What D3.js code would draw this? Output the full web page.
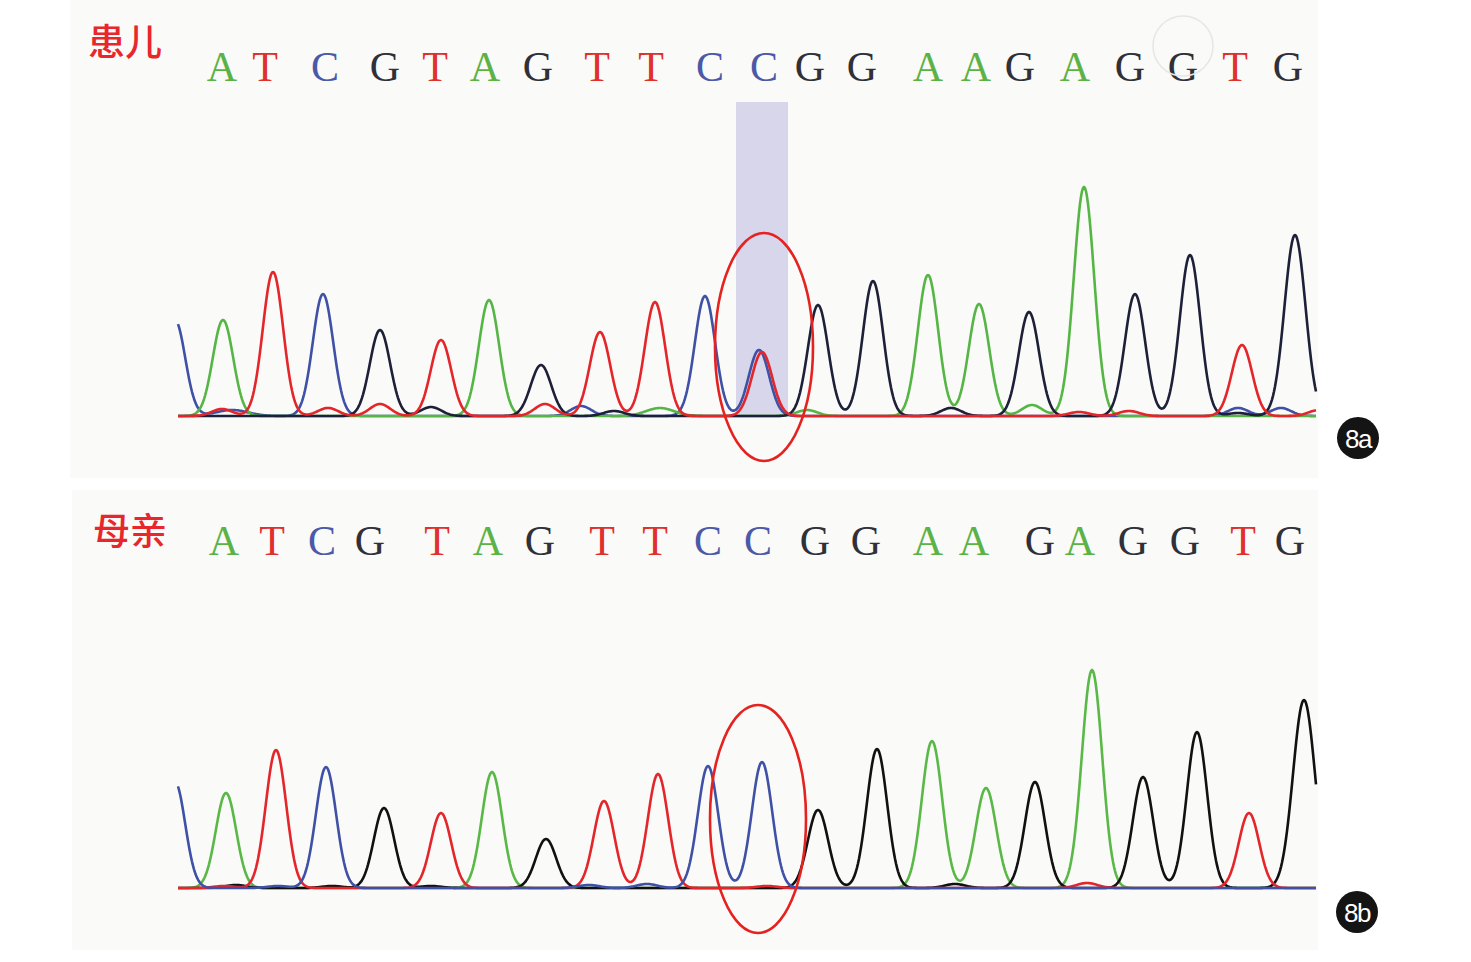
<!DOCTYPE html>
<html><head><meta charset="utf-8">
<script src="https://cdn.jsdelivr.net/npm/d3@7/dist/d3.min.js"></script>
<style>html,body{margin:0;padding:0;background:#fff;}svg{display:block;}</style>
</head><body>
<script>
// ---------- DATA ----------
// base calls and their scan positions
const basesA = ["A","T","C","G","T","A","G","T","T","C","C","G","G","A","A","G","A","G","G","T","G"];
const basePosA = [44,87,147,207,257,307,360,419,473,532,586,632,684,750,798,842,897,952,1005,1057,1110];
const basesB = ["A","T","C","G","T","A","G","T","T","C","C","G","G","A","A","G","A","G","G","T","G"];
const basePosB = [46,94,144,192,259,310,362,424,477,530,580,637,688,750,796,862,902,955,1007,1065,1112];

// peaks per dye channel: [scan position, signal height, (optional width)]
const peaksA_A = [[45,96],[311,116],[750,141],[801,112],[906,229],[482,8,14],[629,6],[854,11]];
const peaksA_C = [[-3,96],[145,122],[527,120],[581,66],[54,6,16],[403,10],[1060,8],[1103,8]];
const peaksA_G = [[202,86],[363,51],[640,111],[695,135],[851,104],[957,122],[1012,161],[1117,181,10.5],[253,9],[436,5],[773,8],[1060,3]];
const peaksA_T = [[95,144],[263,76],[422,84],[477,114],[584,64],[1064,71],[44,7],[150,8],[202,12],[367,12],[901,4],[951,5],[1141,6]];

const peaksB_A = [[48,95],[314,116],[754,147],[808,100],[914,218]];
const peaksB_C = [[-3,106],[148,121],[530,122],[584,126],[100,2],[411,3],[469,4]];
const peaksB_G = [[206,80],[368,49],[640,78],[699,139],[857,106],[965,111],[1019,156],[1126,188,11],[58,3],[154,2],[253,2],[777,4]];
const peaksB_T = [[98,138],[263,75],[426,87],[480,114],[1071,75],[46,2],[589,2],[909,5]];

const scanDomain = [0, 1138];
const signalDomain = [0, 240];
const labelA = "患儿", labelB = "母亲";
const badgeA = "8a", badgeB = "8b";
const highlightA = [558, 610]; // scan range of highlighted base
const ellipseA = {cx: 586, cy: 69, rx: 49, ry: 114};
const ellipseB = {cx: 580, cy: 69, rx: 48, ry: 114};

// ---------- STYLE ----------
const W = 1471, H = 962;
const dyeColor = {A:"#55b645", C:"#3f51a6", G:"#1d2038", T:"#e4262b"};
const dyeColorB = {A:"#5ab847", C:"#3f51a6", G:"#111111", T:"#e4262b"};
const letterColor = {A:"#5cb244", C:"#4b59a8", G:"#2f3038", T:"#e0302c"};
const seqFont = "'Liberation Serif','Times New Roman',serif";

const svg = d3.select("body").append("svg").attr("width", W).attr("height", H);

const panels = [
  {bgX:70, bgY:0, bgW:1248, bgH:478, base:416, top:176, letterY:81, label:labelA, labelX:88, labelY:40,
   bases:basesA, pos:basePosA, peaks:{A:peaksA_A,C:peaksA_C,G:peaksA_G,T:peaksA_T}, colors:dyeColor,
   badge:badgeA, badgeX:1358, badgeY:438, highlight:highlightA, hlTop:102, ellipse:ellipseA,
   order:["C","A","G","T"]},
  {bgX:72, bgY:490, bgW:1246, bgH:460, base:888, top:648, letterY:555, label:labelB, labelX:93, labelY:529,
   bases:basesB, pos:basePosB, peaks:{A:peaksB_A,C:peaksB_C,G:peaksB_G,T:peaksB_T}, colors:dyeColorB,
   badge:badgeB, badgeX:1357, badgeY:912, highlight:null, ellipse:ellipseB,
   order:["A","G","T","C"]}
];

const x = d3.scaleLinear().domain(scanDomain).range([178, 1316]);

panels.forEach((p, i) => {
  const g = svg.append("g");
  g.append("rect").attr("x", p.bgX).attr("y", p.bgY).attr("width", p.bgW).attr("height", p.bgH)
    .attr("fill", "#fafaf8");
  const y = d3.scaleLinear().domain(signalDomain).range([p.base, p.top]);

  if (p.highlight) {
    g.append("rect").attr("x", x(p.highlight[0])).attr("y", p.hlTop)
      .attr("width", x(p.highlight[1]) - x(p.highlight[0])).attr("height", p.base - p.hlTop)
      .attr("fill", "#d7d6ea");
  }

  // sequence letters
  g.selectAll("text.base").data(p.bases).join("text")
    .attr("x", (d, j) => x(p.pos[j])).attr("y", p.letterY)
    .attr("text-anchor", "middle")
    .attr("font-family", seqFont)
    .attr("font-size", 42)
    .attr("fill", d => letterColor[d])
    .text(d => d);

  // label
  g.append("text").attr("x", p.labelX).attr("y", p.labelY).attr("dominant-baseline", "central")
    .attr("font-family", "'Noto Sans CJK SC',sans-serif").attr("font-size", 37).attr("font-weight", 500)
    .attr("fill", "#e8262c").text(p.label);

  // traces: each peak rendered with a bell-shaped profile
  const samples = d3.range(scanDomain[0], scanDomain[1] + 0.5, 1);
  const line = d3.line().x(d => x(d[0])).y(d => y(d[1]));
  p.order.forEach(dye => {
    const pk = p.peaks[dye];
    const pts = samples.map(s => [s, d3.sum(pk, q => {
      const w = q[2] || 10.2;
      const dd = (s - q[0]) / w;
      return q[1] * Math.exp(-0.5 * dd * dd);
    })]);
    g.append("path").attr("d", line(pts)).attr("fill", "none")
      .attr("stroke", p.colors[dye]).attr("stroke-width", 2.6)
      .attr("stroke-linejoin", "round");
  });

  // red ellipse
  const e = p.ellipse;
  g.append("ellipse").attr("cx", x(e.cx)).attr("cy", y(e.cy))
    .attr("rx", e.rx).attr("ry", e.ry).attr("fill", "none")
    .attr("stroke", "#e5221f").attr("stroke-width", 2.6);

  // badge
  g.append("circle").attr("cx", p.badgeX).attr("cy", p.badgeY).attr("r", 21).attr("fill", "#141414");
  g.append("text").attr("x", p.badgeX).attr("y", p.badgeY + 1).attr("text-anchor", "middle")
    .attr("dominant-baseline", "central").attr("font-family", "'Liberation Sans',Arial,sans-serif")
    .attr("font-size", 26).attr("letter-spacing", -1.5).attr("fill", "#fff").text(p.badge);
});

// faint watermark circle
svg.append("circle").attr("cx", 1183).attr("cy", 46).attr("r", 30).attr("fill", "none")
  .attr("stroke", "#e6e6e6").attr("stroke-width", 1.5);
</script>
</body></html>
